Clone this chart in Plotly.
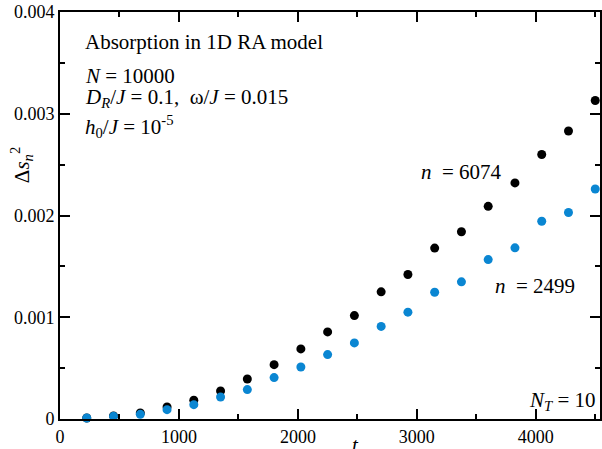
import plotly.graph_objects as go

# Time points (in units of 1/J)
t = [225, 450, 675, 900, 1125, 1350, 1575, 1800, 2025, 2250,
     2475, 2700, 2925, 3150, 3375, 3600, 3825, 4050, 4275, 4500]

# Delta s_n^2 for spin n = 6074
ds2_n6074 = [0.00001, 0.00003, 0.00006, 0.000118, 0.000184, 0.000275, 0.000393,
             0.000534, 0.000689, 0.000856, 0.001016, 0.00125, 0.00142, 0.00168,
             0.00184, 0.00209, 0.00232, 0.0026, 0.00283, 0.00313]

# Delta s_n^2 for spin n = 2499
ds2_n2499 = [0.00001, 0.000026, 0.000046, 0.000092, 0.000141, 0.000216, 0.000289,
             0.000407, 0.000511, 0.000633, 0.000748, 0.00091, 0.00105, 0.001246,
             0.001348, 0.001567, 0.001682, 0.001943, 0.00203, 0.00226]

x_ticks = [0, 1000, 2000, 3000, 4000]
x_tick_labels = ["0", "1000", "2000", "3000", "4000"]
x_minor = [500, 1500, 2500, 3500, 4500]
y_ticks = [0, 0.001, 0.002, 0.003, 0.004]
y_tick_labels = ["0", "0.001", "0.002", "0.003", "0.004"]
y_minor = [0.0005, 0.0015, 0.0025, 0.0035]

W, H = 602, 449
L, R, T, B = 60, 0, 12, 30
PW, PH = W - L - R, H - T - B

def px(x):
    return (x - L) / PW

def py(y):
    return (H - B - y) / PH

SERIF = "Liberation Serif"
BLACK = "#000000"
BLUE = "#0a86d2"

fig = go.Figure()
fig.add_trace(go.Scatter(x=t, y=ds2_n6074, mode="markers", cliponaxis=False,
                         marker=dict(color=BLACK, size=9), name="n = 6074"))
fig.add_trace(go.Scatter(x=t, y=ds2_n2499, mode="markers", cliponaxis=False,
                         marker=dict(color=BLUE, size=9), name="n = 2499"))

axis_common = dict(showline=True, linecolor=BLACK, linewidth=1.8, mirror="ticks",
                   ticks="inside", ticklen=10, tickwidth=1.5, tickcolor=BLACK,
                   showgrid=False, zeroline=False,
                   tickfont=dict(family=SERIF, size=18, color=BLACK))

fig.update_xaxes(range=[0, 4540], tickmode="array", tickvals=x_ticks, ticktext=x_tick_labels,
                 minor=dict(tickmode="array", tickvals=x_minor, ticks="inside", ticklen=5,
                            tickwidth=1.5, tickcolor=BLACK, showgrid=False),
                 **axis_common)
fig.update_yaxes(range=[0, 0.004], tickmode="array", tickvals=y_ticks, ticktext=y_tick_labels,
                 minor=dict(tickmode="array", tickvals=y_minor, ticks="inside", ticklen=5,
                            tickwidth=1.5, tickcolor=BLACK, showgrid=False),
                 **axis_common)

NB = "\u00a0"
texts = [
    ("Absorption in 1D RA model", 83, 42, "left", "middle"),
    ("<i>N</i> = 10000", 83, 76, "left", "middle"),
    ("<i>D</i><sub><i>R</i></sub>/<i>J</i> = 0.1," + NB + NB + "ω/<i>J</i> = 0.015", 83, 98, "left", "middle"),
    ("<i>h</i><sub>0</sub>/<i>J</i> = 10<sup>-5</sup>", 83, 126, "left", "middle"),
    ("<i>n</i>" + NB + NB + "= 6074", 463, 172, "center", "middle"),
    ("<i>n</i>" + NB + NB + "= 2499", 537, 286, "center", "middle"),
    ("<i>N</i><sub><i>T</i></sub> = 10", 600, 401, "right", "middle"),
    ("<i>t</i>", 357, 431, "center", "top"),
]
for txt, x, y, xa, ya in texts:
    fig.add_annotation(text=txt, x=px(x), y=py(y), xref="paper", yref="paper",
                       xanchor=xa, yanchor=ya, showarrow=False,
                       font=dict(family=SERIF, size=21, color=BLACK))

fig.add_annotation(text="Δ<i>s</i><sub><i>n</i></sub><sup>2</sup>", x=px(22), y=py(165),
                   xref="paper", yref="paper", xanchor="center", yanchor="middle",
                   textangle=-90, showarrow=False,
                   font=dict(family=SERIF, size=21, color=BLACK))

fig.update_layout(width=W, height=H, margin=dict(l=L, r=R, t=T, b=B),
                  plot_bgcolor="white", paper_bgcolor="white", showlegend=False,
                  font=dict(family=SERIF, size=18, color=BLACK))

fig.write_html("out.html")
